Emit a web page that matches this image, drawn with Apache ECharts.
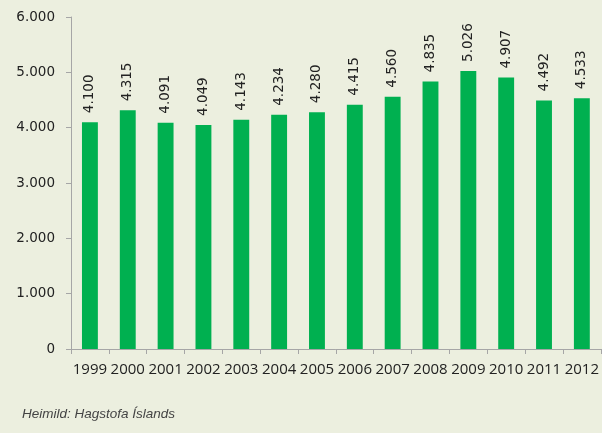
<!DOCTYPE html>
<html>
<head>
<meta charset="utf-8">
<script src="https://cdn.jsdelivr.net/npm/echarts@6/dist/echarts.min.js"></script>
<style>
html, body { margin: 0; padding: 0; background: #ecefdf; }
#chart { width: 602px; height: 433px; }
</style>
</head>
<body>
<div id="chart"></div>
<script>
var years = ['1999', '2000', '2001', '2002', '2003', '2004', '2005', '2006', '2007', '2008', '2009', '2010', '2011', '2012'];
var values = [4100, 4315, 4091, 4049, 4143, 4234, 4280, 4415, 4560, 4835, 5026, 4907, 4492, 4533];
var yTicks = [0, 1000, 2000, 3000, 4000, 5000, 6000];

function fmt(v) {
    // icelandic style: 4.100
    return String(v).replace(/\B(?=(\d{3})+(?!\d))/g, '.');
}

var chart = echarts.init(document.getElementById('chart'));
chart.setOption({
    backgroundColor: '#ecefdf',
    animation: false,
    grid: { left: 71, right: 1, top: 17, bottom: 84 },
    title: {
        text: 'Heimild: Hagstofa Íslands',
        left: 17,
        top: 402,
        textStyle: {
            color: '#444',
            fontSize: 13.5,
            fontStyle: 'italic',
            fontWeight: 'normal',
            fontFamily: 'Liberation Sans'
        }
    },
    xAxis: {
        type: 'category',
        data: years,
        axisLine: { lineStyle: { color: '#a6a6a6' } },
        axisTick: { show: true, length: 5, lineStyle: { color: '#a6a6a6' } },
        axisLabel: { interval: 0, color: '#222', fontSize: 15, fontFamily: 'Open Sans', margin: 13 }
    },
    yAxis: {
        type: 'value',
        min: yTicks[0],
        max: yTicks[yTicks.length - 1],
        interval: 1000,
        splitLine: { show: false },
        axisLine: { show: true, lineStyle: { color: '#a6a6a6' } },
        axisTick: { show: true, length: 5, lineStyle: { color: '#a6a6a6' } },
        axisLabel: {
            color: '#222',
            fontSize: 13.5,
            fontFamily: 'DejaVu Sans',
            margin: 16,
            formatter: function (v) { return fmt(v); }
        }
    },
    series: [{
        type: 'bar',
        data: values,
        barWidth: '42%',
        itemStyle: { color: '#00b050' },
        label: {
            show: true,
            position: 'top',
            rotate: 90,
            align: 'left',
            verticalAlign: 'middle',
            distance: 9,
            color: '#222',
            fontSize: 13.5,
            fontFamily: 'DejaVu Sans',
            formatter: function (p) { return fmt(p.value); }
        }
    }]
});
</script>
</body>
</html>
